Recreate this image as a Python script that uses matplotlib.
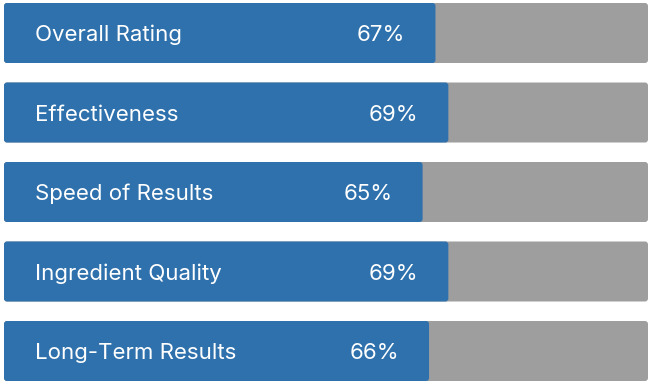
import matplotlib.pyplot as plt
from matplotlib.patches import FancyBboxPatch

plt.rcParams['font.family'] = ['Inter', 'DejaVu Sans']

categories = ["Overall Rating", "Effectiveness", "Speed of Results",
              "Ingredient Quality", "Long-Term Results"]
scores = [67, 69, 65, 69, 66]

blue = "#2f71ac"
grey = "#9e9e9e"

fig = plt.figure(figsize=(6.54, 3.87), dpi=100)
ax = fig.add_axes([4 / 654, 0, 644 / 654, 1])

pitch = 79.5
ypos = list(range(len(categories)))
h = 60 / pitch

ax.set_xlim(0, 100)
ax.set_ylim(4 + (387 - 351) / pitch, -33 / pitch)
ax.axis("off")

bg = ax.barh(ypos, [100] * len(scores), height=h, color=grey, edgecolor="none")
fg = ax.barh(ypos, scores, height=h, color=blue, edgecolor="none")

# swap the plain rectangles for slightly rounded ones
xpx = 644 / 100
ypx = pitch
for bars in (bg, fg):
    for r in bars:
        r.set_visible(False)
        ax.add_patch(FancyBboxPatch((r.get_x(), r.get_y()), r.get_width(), r.get_height(),
                                    boxstyle="round,pad=0,rounding_size=%f" % (3 / xpx),
                                    mutation_aspect=xpx / ypx,
                                    facecolor=r.get_facecolor(), edgecolor="none"))

for y, name, val in zip(ypos, categories, scores):
    ax.annotate(name, (0, y), xytext=(31, -2), textcoords="offset pixels",
                ha="left", va="center", color="white", fontsize=16)
    ax.annotate(f"{val}%", (val, y), xytext=(-30, -2), textcoords="offset pixels",
                ha="right", va="center", color="white", fontsize=16)

fig.savefig("out.png", dpi=100)
